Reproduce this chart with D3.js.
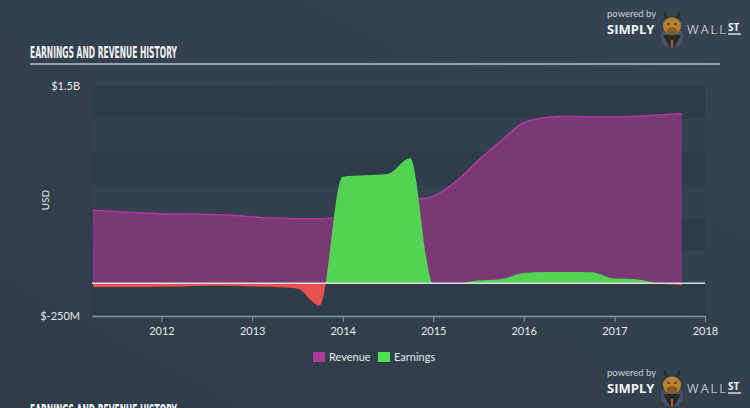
<!DOCTYPE html>
<html><head><meta charset="utf-8">
<script src="https://cdn.jsdelivr.net/npm/d3@7"></script>
<style>
html,body{margin:0;padding:0;background:#333f4c;overflow:hidden}
svg{display:block}
</style></head>
<body>
<svg id="c" width="750" height="408"></svg>
<script>
// ---- data (USD billions, quarterly trailing values) ----
const dates = ["2011-03-31","2011-06-30","2011-09-30","2011-12-31","2012-03-31","2012-06-30","2012-09-30","2012-12-31",
  "2013-03-31","2013-06-30","2013-09-30","2013-12-31","2014-03-31","2014-06-30","2014-09-30","2014-12-31",
  "2015-03-31","2015-06-30","2015-09-30","2015-12-31","2016-03-31","2016-06-30","2016-09-30","2016-12-31",
  "2017-03-31","2017-06-30","2017-09-30"];
const revenue = [0.555,0.545,0.535,0.528,0.525,0.523,0.518,0.505,
  0.495,0.49,0.49,0.51,0.55,0.59,0.63,0.66,
  0.77,0.93,1.08,1.22,1.26,1.27,1.265,1.265,
  1.27,1.28,1.29];
const earnings = [-0.03,-0.03,-0.03,-0.028,-0.025,-0.02,-0.02,-0.025,
  -0.03,-0.04,-0.17,0.81,0.82,0.83,0.95,0.0,
  -0.004,0.02,0.03,0.078,0.085,0.085,0.083,0.035,
  0.03,-0.003,-0.015];
const yTickLabels = ["$1.5B","$-250M"];
const yTickValues = [1.5,-0.25];
const seriesNames = ["Revenue","Earnings"];
const seriesColors = ["#b03a9c","#52e052"];

const parse = d3.timeParse("%Y-%m-%d");
const data = dates.map((d,i)=>({date:parse(d),rev:revenue[i],earn:earnings[i]}));

const svg = d3.select("#c");
const W=750,H=408;
const plot={l:92,r:705,t:86,b:316};

// background gradient
const defs = svg.append("defs");
const bg = defs.append("linearGradient").attr("id","bg").attr("x1","0").attr("y1","1").attr("x2","1").attr("y2","0");
bg.append("stop").attr("offset","0%").attr("stop-color","#303c48");
bg.append("stop").attr("offset","100%").attr("stop-color","#364452");
svg.append("rect").attr("width",W).attr("height",H).attr("fill","url(#bg)");

const x = d3.scaleTime().domain([parse("2011-03-27"),parse("2018-01-01")]).range([plot.l,plot.r]);
const y = d3.scaleLinear().domain([-0.25,1.5]).range([plot.b,plot.t]);

// bands every 250M
const bandVals = d3.range(-0.25,1.5,0.25);
svg.append("g").selectAll("rect").data(bandVals).join("rect")
  .attr("x",plot.l).attr("width",plot.r-plot.l)
  .attr("y",d=>y(d+0.25)).attr("height",d=>y(d)-y(d+0.25))
  .attr("fill",(d,i)=> (i%2===0)?"#2e3b48":"#334150");

// revenue area
const curve = d3.curveMonotoneX;
svg.append("path").datum(data)
  .attr("d",d3.area().x(d=>x(d.date)).y0(y(0)).y1(d=>y(d.rev)).curve(curve))
  .attr("fill","#7a3874");
svg.append("path").datum(data)
  .attr("d",d3.line().x(d=>x(d.date)).y(d=>y(d.rev)).curve(curve))
  .attr("fill","none").attr("stroke","#b03a9c").attr("stroke-width",1.5);

// earnings area, green above 0 / red below
defs.append("clipPath").attr("id","above").append("rect")
  .attr("x",0).attr("y",0).attr("width",W).attr("height",y(0));
defs.append("clipPath").attr("id","below").append("rect")
  .attr("x",0).attr("y",y(0)).attr("width",W).attr("height",H-y(0));
const earnArea = d3.area().x(d=>x(d.date)).y0(y(0)).y1(d=>y(d.earn)).curve(curve);
svg.append("path").datum(data).attr("d",earnArea)
  .attr("fill","#52d852").attr("fill-opacity",0.96).attr("clip-path","url(#above)");
svg.append("path").datum(data).attr("d",earnArea)
  .attr("fill","#e8524e").attr("clip-path","url(#below)");

// zero line
svg.append("line").attr("x1",plot.l).attr("x2",plot.r).attr("y1",y(0)).attr("y2",y(0))
  .attr("stroke","#d8dde2").attr("stroke-width",1.5);

// x axis
const xAxis = d3.axisBottom(x).ticks(d3.timeYear.every(1)).tickFormat(d3.timeFormat("%Y")).tickSize(6).tickSizeOuter(0);
const gx = svg.append("g").attr("transform",`translate(0,${plot.b})`).call(xAxis);
gx.select(".domain").attr("stroke","#8796a6").attr("stroke-width",1.5);
gx.selectAll(".tick line").attr("stroke","#8796a6");
gx.selectAll("text").attr("fill","#e6e9ec").attr("font-family","Lato, sans-serif").attr("font-size",11).attr("dy","0.95em");

// y labels
svg.append("g").selectAll("text").data(yTickValues).join("text")
  .attr("x",80).attr("y",d=>y(d)).attr("dy","0.35em").attr("text-anchor","end")
  .attr("fill","#e6e9ec").attr("font-family","Lato, sans-serif").attr("font-size",11)
  .text((d,i)=>yTickLabels[i]);
svg.append("text").attr("transform","translate(49,200) rotate(-90)").attr("text-anchor","middle")
  .attr("fill","#e6e9ec").attr("font-family","Lato, sans-serif").attr("font-size",10).text("USD");

// title
const titleFont = "'Liberation Sans Narrow','DejaVu Sans Condensed',sans-serif";
svg.append("text").attr("x",30).attr("y",58).attr("fill","#f2f4f6")
  .attr("font-family",titleFont).attr("font-weight","bold")
  .attr("font-size",15).attr("textLength",147).attr("lengthAdjust","spacingAndGlyphs")
  .text("EARNINGS AND REVENUE HISTORY");
svg.append("line").attr("x1",30).attr("x2",720).attr("y1",64).attr("y2",64).attr("stroke","#b8c2cc").attr("stroke-width",1.5);

// bottom cut-off title (repeated panel below)
svg.append("text").attr("x",30).attr("y",416).attr("fill","#f2f4f6")
  .attr("font-family",titleFont).attr("font-weight","bold")
  .attr("font-size",15).attr("textLength",147).attr("lengthAdjust","spacingAndGlyphs")
  .text("EARNINGS AND REVENUE HISTORY");

// legend
const lg = svg.append("g").attr("transform","translate(313,352)");
const items = lg.selectAll("g").data(seriesNames).join("g").attr("transform",(d,i)=>`translate(${i*65},0)`);
items.append("rect").attr("width",12).attr("height",10).attr("fill",(d,i)=>seriesColors[i]);
items.append("text").attr("x",16).attr("y",5).attr("dy","0.35em").attr("fill","#e6e9ec")
  .attr("font-family","Lato, sans-serif").attr("font-size",11).text(d=>d);

// logo
function logo(tx,ty){
  const g = svg.append("g").attr("transform",`translate(${tx},${ty})`);
  g.append("text").attr("x",0).attr("y",0).attr("fill","#c9d0d7").attr("font-family","Lato, sans-serif").attr("font-size",9.5).text("powered by");
  g.append("text").attr("x",0).attr("y",17).attr("fill","#f2f4f6").attr("font-family","'Open Sans', sans-serif").attr("font-weight","bold").attr("font-size",13).text("SIMPLY");
  // bull
  const b = g.append("g").attr("transform","translate(65,5)");
  b.append("circle").attr("cx",0).attr("cy",15).attr("r",11).attr("fill","#4a5560");
  b.append("path").attr("d","M-9,13 L-2,26 L0,19 L2,26 L9,13 Z").attr("fill","#26292d");
  b.append("path").attr("d","M-1,18 L1,18 L0.6,25 L-0.6,25 Z").attr("fill","#e25b26");
  b.append("path").attr("d","M-7,-4 Q-10,-9 -6,-11 Q-6,-6 -3,-4 Z").attr("fill","#2a2a2a");
  b.append("path").attr("d","M7,-4 Q10,-9 6,-11 Q6,-6 3,-4 Z").attr("fill","#2a2a2a");
  b.append("ellipse").attr("cx",0).attr("cy",4).attr("rx",9).attr("ry",8.5).attr("fill","#b9822f");
  b.append("ellipse").attr("cx",0).attr("cy",9).attr("rx",5.5).attr("ry",3.8).attr("fill","#8a5a20");
  b.append("circle").attr("cx",-3.5).attr("cy",2).attr("r",1.1).attr("fill","#222");
  b.append("circle").attr("cx",3.5).attr("cy",2).attr("r",1.1).attr("fill","#222");
  g.append("text").attr("x",80).attr("y",17).attr("fill","#f2f4f6").attr("font-family","'Open Sans', sans-serif").attr("font-weight",300).attr("font-size",13).attr("textLength",39).text("WALL");
  g.append("text").attr("x",121).attr("y",14).attr("fill","#f2f4f6").attr("font-family","'Open Sans', sans-serif").attr("font-weight","bold").attr("font-size",10).text("ST");
  g.append("line").attr("x1",121).attr("x2",134).attr("y1",17).attr("y2",17).attr("stroke","#f2f4f6").attr("stroke-width",1.3);
}
logo(607,17);
logo(607,376);
</script>
</body></html>
